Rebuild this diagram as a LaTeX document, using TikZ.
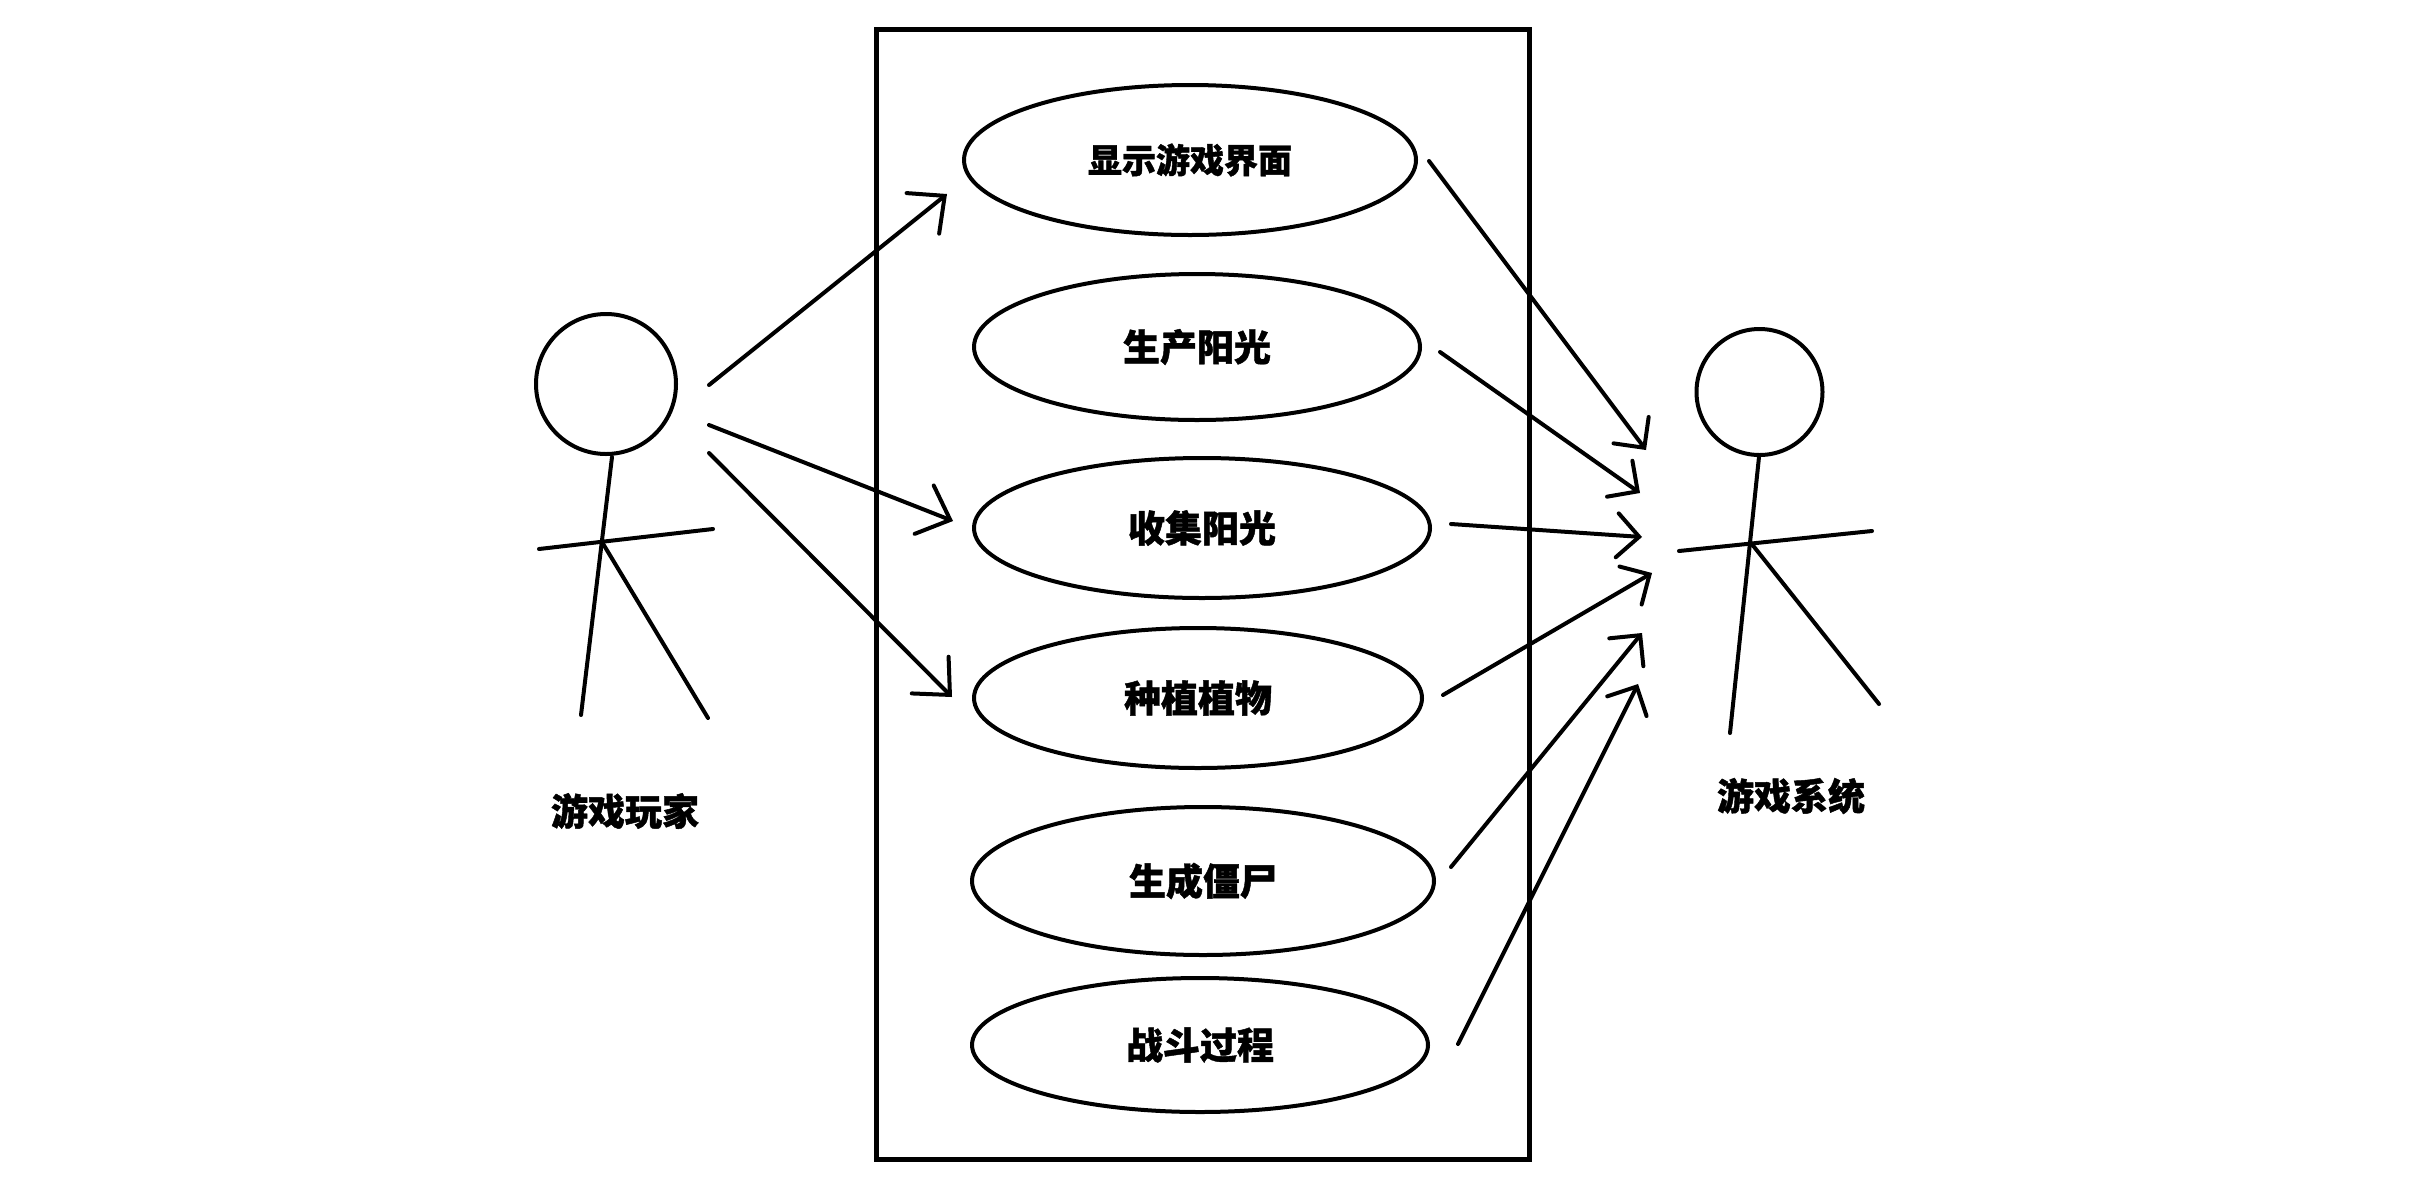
\documentclass[tikz,border=0pt]{standalone}
\usepackage{fontspec}
\newfontfamily\cjk{Noto Sans CJK SC}[BoldFeatures={FakeBold=1.2}]
\usetikzlibrary{shapes.geometric,arrows.meta}
\tikzset{
  stroke/.style={line width=2pt, line cap=round, line join=round},
  usecase/.style={draw, ellipse, line width=2pt, inner sep=0pt,
    font=\cjk\bfseries\fontsize{18.5}{20}\selectfont},
  lbl/.style={font=\cjk\bfseries\fontsize{18.5}{20}\selectfont, inner sep=0pt},
  headc/.style={draw, circle, line width=2pt, inner sep=0pt},
  larrow/.style={stroke, -{Straight Barb[length=14pt,width=26pt,line cap=round]}},
  rarrow/.style={stroke, -{Straight Barb[length=11pt,width=22pt,line cap=round]}},
}
\begin{document}
\begin{tikzpicture}[x=0.5pt,y=-0.5pt]
\useasboundingbox (0,0) rectangle (2427,1201);
\fill[white] (0,0) rectangle (2427,1201);
% system boundary
\node[draw, line width=2.5pt, minimum width=326.5pt, minimum height=565pt, inner sep=0pt] (sys) at (1202.5,594) {};
% use cases
\node[usecase, minimum width=226pt, minimum height=75pt, font=\cjk\bfseries\fontsize{17}{20}\selectfont] (uc1) at (1190,160) {显示游戏界面};
\node[usecase, minimum width=223pt, minimum height=73pt] (uc2) at (1197,347) {生产阳光};
\node[usecase, minimum width=228pt, minimum height=70pt] (uc3) at (1202,528) {收集阳光};
\node[usecase, minimum width=224pt, minimum height=70pt] (uc4) at (1198,698) {种植植物};
\node[usecase, minimum width=231pt, minimum height=74pt] (uc5) at (1203,881) {生成僵尸};
\node[usecase, minimum width=228pt, minimum height=67pt] (uc6) at (1200,1045) {战斗过程};
% left actor
\node[headc, minimum size=70pt] (lhead) at (606,384) {};
\coordinate (lneck) at (612,457);
\coordinate (lhip) at (602,542);
\coordinate (lfootl) at (581,715);
\coordinate (lfootr) at (708,718);
\coordinate (larml) at (539,549);
\coordinate (larmr) at (713,529);
\draw[stroke] (lneck) -- (lfootl);
\draw[stroke] (lhip) -- (lfootr);
\draw[stroke] (larml) -- (larmr);
\node[lbl] (lname) at (625,811) {游戏玩家};
% right actor
\node[headc, minimum size=63pt] (rhead) at (1759.5,392) {};
\coordinate (rneck) at (1759,457);
\coordinate (rhip) at (1751,543);
\coordinate (rfootl) at (1730,733);
\coordinate (rfootr) at (1879,704);
\coordinate (rarml) at (1679,551);
\coordinate (rarmr) at (1872,531);
\draw[stroke] (rneck) -- (rfootl);
\draw[stroke] (rhip) -- (rfootr);
\draw[stroke] (rarml) -- (rarmr);
\node[lbl] (rname) at (1791,796) {游戏系统};
% player arrows
\coordinate (a1s) at (709,385); \coordinate (a1e) at (947,194);
\coordinate (a2s) at (709,425); \coordinate (a2e) at (953,521);
\coordinate (a3s) at (709,453); \coordinate (a3e) at (952,697);
\draw[larrow] (a1s) -- (a1e);
\draw[larrow] (a2s) -- (a2e);
\draw[larrow] (a3s) -- (a3e);
% system arrows
\coordinate (r1s) at (1429,161); \coordinate (r1e) at (1646,450);
\coordinate (r2s) at (1440,352); \coordinate (r2e) at (1640,493);
\coordinate (r3s) at (1451,524); \coordinate (r3e) at (1642,537);
\coordinate (r4s) at (1443,695); \coordinate (r4e) at (1652,573);
\coordinate (r5s) at (1451,867); \coordinate (r5e) at (1642,633);
\coordinate (r6s) at (1458,1044); \coordinate (r6e) at (1638,684);
\draw[rarrow] (r1s) -- (r1e);
\draw[rarrow] (r2s) -- (r2e);
\draw[rarrow] (r3s) -- (r3e);
\draw[rarrow] (r4s) -- (r4e);
\draw[rarrow] (r5s) -- (r5e);
\draw[rarrow] (r6s) -- (r6e);
\end{tikzpicture}
\end{document}
